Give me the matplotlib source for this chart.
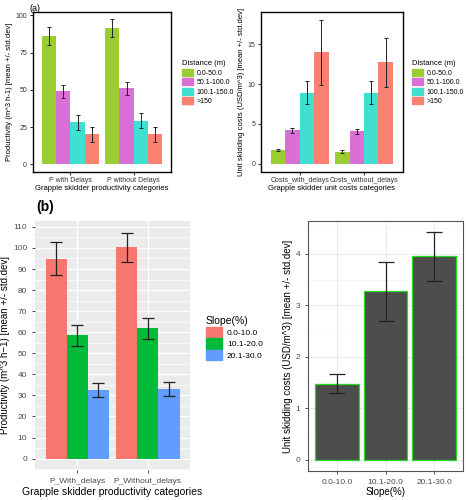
import numpy as np
import matplotlib
matplotlib.use("Agg")
import matplotlib.pyplot as plt
from matplotlib.patches import Patch
from matplotlib.ticker import MultipleLocator

plt.rcParams['font.family'] = ['Liberation Sans', 'DejaVu Sans']

# ---- data, panel (a) ----
dist_labels = ['0.0-50.0', '50.1-100.0', '100.1-150.0', '>150']
dist_colors = ['#9ACD32', '#DA70D6', '#40E0D0', '#FA8072']

prod_cats = ['P with Delays', 'P without Delays']
prod_mean = [[86.2, 91.6], [49.2, 51.0], [28.2, 29.3], [20.2, 20.2]]
prod_sd = [[6.2, 6.1], [4.3, 4.2], [5.0, 5.2], [5.0, 5.0]]

cost_cats = ['Costs_with_delays', 'Costs_without_delays']
cost_mean = [[1.72, 1.55], [4.19, 4.06], [8.92, 8.92], [13.95, 12.74]]
cost_sd = [[0.15, 0.18], [0.35, 0.30], [1.4, 1.4], [4.1, 3.06]]

# ---- data, panel (b) ----
slope_labels = ['0.0-10.0', '10.1-20.0', '20.1-30.0']
slope_colors = ['#F8766D', '#00BA38', '#619CFF']

prodb_cats = ['P_With_delays', 'P_Without_delays']
prodb_mean = [[94.8, 100.3], [58.6, 61.9], [32.6, 33.1]]
prodb_sd = [[7.8, 7.0], [4.9, 4.9], [3.2, 3.2]]

costb_mean = [1.48, 3.27, 3.95]
costb_sd = [0.18, 0.58, 0.47]

fig = plt.figure(figsize=(4.66, 5.0), dpi=100)


def dodge_bars(ax, cats, means, sds, colors, capsize, err_lw):
    n = len(means)
    w = 0.9 / n
    x = np.arange(1, len(cats) + 1)
    for i in range(n):
        xi = x - 0.45 + w * (i + 0.5)
        ax.bar(xi, means[i], width=w, color=colors[i], zorder=2)
        ax.errorbar(xi, means[i], yerr=sds[i], fmt='none', ecolor='#222222',
                    elinewidth=err_lw, capsize=capsize, capthick=err_lw, zorder=3)
    ax.set_xticks(x)
    ax.set_xticklabels(cats)
    ax.set_xlim(0.4, len(cats) + 0.6)


def style_a(ax):
    for s in ax.spines.values():
        s.set_color('black')
        s.set_linewidth(1.0)
    ax.tick_params(labelsize=5, colors='#333333', length=2, width=0.6, pad=2)
    ax.tick_params(axis='both', color='black')


# panel (a) left
ax1 = fig.add_axes([0.070, 0.657, 0.298, 0.318])
dodge_bars(ax1, prod_cats, prod_mean, prod_sd, dist_colors, 1.5, 0.7)
ax1.set_ylim(-4.8, 102)
ax1.set_yticks([0, 25, 50, 75, 100])
style_a(ax1)
ax1.set_ylabel('Productivity (m^3 h-1) [mean +/- std.dev]', fontsize=5.5, labelpad=2)
ax1.set_xlabel('Grapple skidder productivity categories', fontsize=5.5, labelpad=1)
fig.text(0.064, 0.992, '(a)', fontsize=6.5, va='top')
hs = [Patch(color=c) for c in dist_colors]
ax1.legend(hs, dist_labels, title='Distance (m)', loc='upper left',
           bbox_to_anchor=(0.385, 0.885), bbox_transform=fig.transFigure,
           frameon=False, fontsize=5, title_fontsize=5.5, handlelength=1.6,
           handleheight=1.1, labelspacing=0.25, handletextpad=0.5,
           alignment='left', borderaxespad=0)

# panel (a) right
ax2 = fig.add_axes([0.560, 0.657, 0.304, 0.318])
dodge_bars(ax2, cost_cats, cost_mean, cost_sd, dist_colors, 1.5, 0.7)
ax2.set_ylim(-0.95, 18.95)
ax2.set_yticks([0, 5, 10, 15])
style_a(ax2)
ax2.set_ylabel('Unit skidding costs (USD/m^3) [mean +/- std.dev]', fontsize=5.5, labelpad=2)
ax2.set_xlabel('Grapple skidder unit costs categories', fontsize=5.5, labelpad=1)
ax2.legend(hs, dist_labels, title='Distance (m)', loc='upper left',
           bbox_to_anchor=(0.878, 0.885), bbox_transform=fig.transFigure,
           frameon=False, fontsize=5, title_fontsize=5.5, handlelength=1.6,
           handleheight=1.1, labelspacing=0.25, handletextpad=0.5,
           alignment='left', borderaxespad=0)

# panel (b) left, ggplot grey theme
ax3 = fig.add_axes([0.075, 0.060, 0.333, 0.498])
ax3.set_facecolor('#EBEBEB')
dodge_bars(ax3, prodb_cats, prodb_mean, prodb_sd, slope_colors, 4.5, 0.9)
ax3.set_ylim(-5.4, 112.8)
ax3.yaxis.set_major_locator(MultipleLocator(10))
ax3.yaxis.set_minor_locator(MultipleLocator(5))
ax3.grid(which='major', color='white', linewidth=0.9, zorder=0)
ax3.grid(which='minor', axis='y', color='white', linewidth=0.45, zorder=0)
ax3.set_axisbelow(True)
for s in ax3.spines.values():
    s.set_visible(False)
ax3.tick_params(labelsize=6, colors='#4D4D4D', length=2, width=0.6)
ax3.tick_params(which='minor', length=0)
ax3.tick_params(axis='both', color='#333333')
ax3.set_ylabel('Productivity (m^3 h\u22121) [mean +/- std.dev]', fontsize=7, labelpad=2)
ax3.set_xlabel('Grapple skidder productivity categories', fontsize=7.5, labelpad=2)
fig.text(0.077, 0.585, '(b)', fontsize=10, fontweight='bold', va='center')
hs2 = [Patch(color=c) for c in slope_colors]
ax3.legend(hs2, slope_labels, title='Slope(%)', loc='upper left',
           bbox_to_anchor=(0.435, 0.375), bbox_transform=fig.transFigure,
           frameon=False, fontsize=6, title_fontsize=7.5, handlelength=1.9,
           handleheight=1.6, labelspacing=0.1, handletextpad=0.6,
           alignment='left', borderaxespad=0)

# panel (b) right, ggplot bw theme
ax4 = fig.add_axes([0.661, 0.058, 0.333, 0.500])
xs = np.arange(1, len(slope_labels) + 1)
ax4.bar(xs, costb_mean, width=0.9, color='#4D4D4D', edgecolor='#22DD22',
        linewidth=0.9, zorder=2)
ax4.errorbar(xs, costb_mean, yerr=costb_sd, fmt='none', ecolor='#222222',
             elinewidth=0.9, capsize=6, capthick=0.9, zorder=3)
ax4.set_xticks(xs)
ax4.set_xticklabels(slope_labels)
ax4.set_xlim(0.4, 3.6)
ax4.set_ylim(-0.22, 4.64)
ax4.yaxis.set_major_locator(MultipleLocator(1))
ax4.yaxis.set_minor_locator(MultipleLocator(0.5))
ax4.grid(which='major', color='#EBEBEB', linewidth=0.8, zorder=0)
ax4.grid(which='minor', axis='y', color='#F2F2F2', linewidth=0.4, zorder=0)
ax4.set_axisbelow(True)
for s in ax4.spines.values():
    s.set_color('#555555')
    s.set_linewidth(0.8)
ax4.tick_params(labelsize=6, colors='#4D4D4D', length=2, width=0.6)
ax4.tick_params(which='minor', length=0)
ax4.tick_params(axis='both', color='#333333')
ax4.set_ylabel('Unit skidding costs (USD/m^3) [mean +/- std.dev]', fontsize=7, labelpad=2)
ax4.set_xlabel('Slope(%)', fontsize=7, labelpad=1)

fig.savefig('out.png', dpi=100)
